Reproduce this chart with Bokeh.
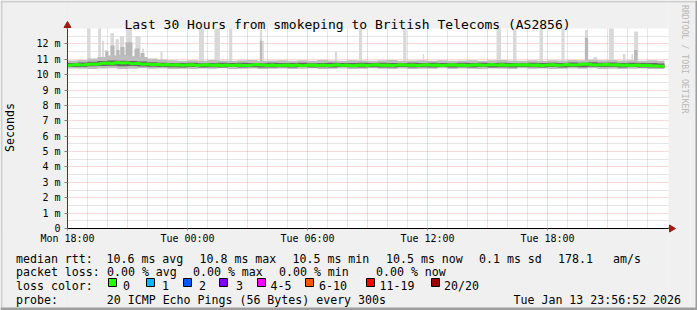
import math
from bokeh.plotting import figure
from bokeh.models import Range1d, FixedTicker, Label, BoxAnnotation, PolyAnnotation
from bokeh.embed import file_html
from bokeh.resources import INLINE

# ---------------- data ----------------
title_text = "Last 30 Hours from smokeping to British Telecoms (AS2856)"
x_tick_hours = [0, 6, 12, 18, 24]
x_tick_labels = ["Mon 18:00", "Tue 00:00", "Tue 06:00", "Tue 12:00", "Tue 18:00"]
y_tick_values = [0, 1, 2, 3, 4, 5, 6, 7, 8, 9, 10, 11, 12]
y_tick_labels = ["0", "1 m", "2 m", "3 m", "4 m", "5 m", "6 m", "7 m", "8 m", "9 m", "10 m", "11 m", "12 m"]

# hours after Mon 18:00, 15 min samples
median_hours = [i * 0.25 for i in range(120)] + [29.85]
median_ms = [
    10.60, 10.63, 10.66, 10.62, 10.66, 10.70, 10.68, 10.74,
    10.76, 10.72, 10.79, 10.75, 10.78, 10.70, 10.74, 10.68,
    10.70, 10.65, 10.68, 10.63, 10.66, 10.62, 10.64, 10.61,
    10.63, 10.65, 10.60, 10.62, 10.64, 10.61, 10.63, 10.60,
    10.62, 10.59, 10.63, 10.61, 10.60, 10.63, 10.66, 10.62,
    10.60, 10.62, 10.59, 10.61, 10.63, 10.60, 10.62, 10.58,
    10.61, 10.63, 10.60, 10.62, 10.59, 10.61, 10.64, 10.60,
    10.62, 10.58, 10.61, 10.63, 10.60, 10.62, 10.64, 10.61,
    10.63, 10.60, 10.62, 10.65, 10.61, 10.63, 10.60, 10.62,
    10.64, 10.61, 10.63, 10.60, 10.62, 10.65, 10.61, 10.63,
    10.60, 10.62, 10.64, 10.61, 10.63, 10.66, 10.62, 10.64,
    10.61, 10.63, 10.65, 10.62, 10.64, 10.61, 10.63, 10.60,
    10.62, 10.65, 10.61, 10.63, 10.66, 10.62, 10.64, 10.67,
    10.69, 10.65, 10.62, 10.64, 10.66, 10.63, 10.65, 10.61,
    10.63, 10.60, 10.62, 10.59, 10.61, 10.58, 10.56, 10.55,
    10.55,
]

# smoke (ping distribution), 30 min samples
band_hours = [i * 0.5 for i in range(60)] + [29.85]
smoke_min = [
    10.40, 10.38, 10.36, 10.40, 10.42, 10.37, 10.39, 10.41, 10.38, 10.40,
    10.37, 10.39, 10.36, 10.40, 10.38, 10.41, 10.37, 10.39, 10.40, 10.36,
    10.38, 10.40, 10.37, 10.39, 10.41, 10.36, 10.38, 10.40, 10.37, 10.39,
    10.41, 10.38, 10.36, 10.40, 10.37, 10.39, 10.38, 10.41, 10.36, 10.40,
    10.38, 10.37, 10.40, 10.39, 10.36, 10.41, 10.38, 10.40, 10.37, 10.39,
    10.40, 10.38, 10.41, 10.37, 10.39, 10.36, 10.38, 10.40, 10.37, 10.36, 10.35,
]
smoke_q1 = [
    10.49, 10.50, 10.54, 10.56, 10.58, 10.55, 10.57, 10.53, 10.51, 10.49,
    10.48, 10.47, 10.49, 10.46, 10.48, 10.47, 10.49, 10.46, 10.48, 10.47,
    10.46, 10.48, 10.47, 10.49, 10.46, 10.48, 10.47, 10.49, 10.48, 10.46,
    10.48, 10.47, 10.46, 10.49, 10.47, 10.48, 10.46, 10.49, 10.47, 10.48,
    10.47, 10.49, 10.46, 10.48, 10.47, 10.49, 10.48, 10.46, 10.49, 10.47,
    10.50, 10.48, 10.51, 10.49, 10.50, 10.47, 10.49, 10.46, 10.47, 10.45, 10.44,
]
smoke_q3 = [
    10.76, 10.79, 10.84, 10.88, 10.92, 10.90, 10.88, 10.85, 10.80, 10.78,
    10.76, 10.75, 10.77, 10.74, 10.76, 10.78, 10.75, 10.77, 10.76, 10.74,
    10.77, 10.75, 10.76, 10.78, 10.74, 10.76, 10.77, 10.75, 10.76, 10.78,
    10.75, 10.77, 10.76, 10.74, 10.77, 10.75, 10.78, 10.76, 10.74, 10.77,
    10.76, 10.78, 10.75, 10.77, 10.76, 10.74, 10.77, 10.75, 10.78, 10.76,
    10.79, 10.77, 10.80, 10.78, 10.79, 10.76, 10.78, 10.75, 10.76, 10.73, 10.72,
]
smoke_max = [
    10.92, 10.95, 11.05, 11.15, 11.25, 11.30, 11.20, 11.15, 11.05, 10.98,
    10.93, 10.90, 10.94, 10.91, 10.95, 10.92, 10.90, 10.93, 10.96, 10.91,
    10.92, 10.94, 10.90, 10.93, 10.91, 10.95, 10.92, 10.90, 10.94, 10.92,
    10.91, 10.93, 10.95, 10.90, 10.92, 10.94, 10.91, 10.93, 10.90, 10.92,
    10.94, 10.91, 10.93, 10.95, 10.92, 10.90, 10.93, 10.91, 10.94, 10.92,
    10.95, 10.93, 10.97, 10.94, 10.96, 10.92, 10.94, 10.91, 10.93, 10.90, 10.88,
]

# slowest ping spikes (hours, ms)
spike_start = [0.98, 1.53, 1.73, 1.87, 2.15, 2.40, 2.62, 2.93, 3.40, 3.73, 4.65,
               6.57, 7.35, 8.08, 9.62, 9.73, 13.37, 14.57, 16.78, 17.77, 21.45,
               22.28, 23.60, 24.70, 25.87, 26.30, 27.07, 27.77, 28.20, 28.33]
spike_end = [1.15, 1.68, 1.82, 1.98, 2.32, 2.57, 2.82, 3.22, 3.65, 3.82, 4.75,
             6.82, 7.62, 8.24, 9.73, 9.82, 13.48, 14.73, 16.95, 17.83, 21.68,
             22.45, 23.77, 24.85, 26.03, 26.48, 27.32, 27.90, 28.28, 28.53]
spike_top = [13.0, 13.0, 12.2, 11.6, 12.7, 12.3, 12.5, 13.0, 12.5, 11.7, 11.5,
             13.0, 13.0, 13.0, 12.9, 12.2, 11.5, 13.0, 13.0, 11.35, 13.0,
             13.0, 13.0, 13.0, 12.9, 11.15, 13.0, 11.35, 11.35, 12.8]
# second slowest pings (darker smoke)
spike2_start = [1.90, 2.15, 2.45, 2.65, 2.90, 3.35, 3.65, 9.62, 25.87, 28.33]
spike2_end = [2.05, 2.35, 2.60, 2.85, 3.25, 3.60, 3.85, 9.73, 26.03, 28.50]
spike2_top = [11.5, 11.9, 11.6, 11.8, 12.1, 11.7, 11.4, 12.2, 12.4, 11.6]

loss_labels = ["0", "1", "2", "3", "4-5", "6-10", "11-19", "20/20"]
loss_colors = ["#26ff00", "#00b8ff", "#0059ff", "#7e00ff", "#ff00ff", "#ff5500", "#ff0000", "#a10000"]

rtt_texts = ["10.6 ms avg", "10.8 ms max", "10.5 ms min", "10.5 ms now", "0.1 ms sd", "178.1", "am/s"]
loss_texts = ["0.00 % avg", "0.00 % max", "0.00 % min", "0.00 % now"]
probe_text = "20 ICMP Echo Pings (56 Bytes) every 300s"
stamp_text = "Tue Jan 13 23:56:52 2026"

# ---------------- layout ----------------
W, H = 697, 310
FL, FR, FT, FB = 67, 668, 28, 228        # plot area in canvas pixels
X0, X1 = 0.0, 30.05                      # plot area in hours
Y0, Y1 = 0.0, 13.0                       # plot area in ms
MONO = "DejaVu Sans Mono"
BG = "#f0f0f0"

kx = (FR - FL) / (X1 - X0)
ky = (FB - FT) / (Y1 - Y0)
xr = Range1d(X0 - FL / kx, X1 + (W - FR) / kx)
yr = Range1d(Y0 - (H - FB) / ky, Y1 + FT / ky)

p = figure(width=W, height=H, output_backend="svg", toolbar_location=None,
           x_range=xr, y_range=yr, min_border=0,
           background_fill_color="#ffffff", border_fill_color=BG,
           outline_line_color=None)

# grids
p.xgrid.ticker = FixedTicker(ticks=[i * 3 for i in range(10)],
                             minor_ticks=[i for i in range(30) if i % 3])
p.ygrid.ticker = FixedTicker(ticks=list(range(13)),
                             minor_ticks=[i + 0.5 for i in range(13)])
for g in (p.xgrid, p.ygrid):
    g.grid_line_color = "#e00000"
    g.grid_line_alpha = 0.3
    g.grid_line_dash = "1 1"
    g.minor_grid_line_color = "#8f8f8f"
    g.minor_grid_line_alpha = 0.45
    g.minor_grid_line_dash = "1 1"

# axes, fixed at the plot-area edges
p.xaxis.fixed_location = Y0
p.yaxis.fixed_location = X0
p.xaxis.bounds = (X0, X1)
p.yaxis.bounds = (Y0, Y1)
p.xaxis.ticker = FixedTicker(ticks=x_tick_hours)
p.xaxis.major_label_overrides = dict(zip(x_tick_hours, x_tick_labels))
p.yaxis.ticker = FixedTicker(ticks=y_tick_values)
p.yaxis.major_label_overrides = dict(zip(y_tick_values, y_tick_labels))
for ax in (p.xaxis, p.yaxis):
    ax.major_label_text_font = MONO
    ax.major_label_text_font_size = "10px"
    ax.major_label_text_color = "#000000"
    ax.minor_tick_line_color = None
    ax.major_tick_in = 0
p.xaxis.major_tick_out = 2
p.xaxis.major_tick_line_color = "#d08080"
p.xaxis.major_label_standoff = 2
p.xaxis.axis_line_color = "#000000"
p.yaxis.major_tick_out = 3
p.yaxis.major_tick_line_color = "#808080"
p.yaxis.major_label_standoff = 4
p.yaxis.axis_line_color = "#6a2626"

# background outside the plot area (hides grid overflow)
p.quad(left=[xr.start, X1, X0, X0], right=[X0, xr.end, X1, X1],
       bottom=[yr.start, yr.start, Y1, yr.start], top=[yr.end, yr.end, yr.end, Y0],
       fill_color=BG, line_color=None)

# data glyphs
p.quad(left=spike_start, right=spike_end, bottom=10.8, top=spike_top,
       fill_color="#d9d9d9", line_color=None)
p.quad(left=spike2_start, right=spike2_end, bottom=10.8, top=spike2_top,
       fill_color="#b8b8b8", line_color=None)
p.varea_step(x=band_hours, y1=smoke_min, y2=smoke_max, step_mode="after",
             fill_color="#bdbdbd")
p.varea_step(x=band_hours, y1=smoke_q1, y2=smoke_q3, step_mode="after",
             fill_color="#666666")
p.line(median_hours, median_ms, line_color="#26ff00", line_width=3)


def text(t, cx, cy, size="11.6px", align="left", baseline="alphabetic", angle=0.0, color="#000000"):
    p.add_layout(Label(x=cx, y=H - cy, x_units="screen", y_units="screen", text=t,
                       text_font=MONO, text_font_size=size, text_align=align,
                       text_baseline=baseline, angle=angle, text_color=color))


def box(l, t, r, b, color, line=None):
    p.add_layout(BoxAnnotation(left=l, right=r, top=H - t, bottom=H - b,
                               left_units="screen", right_units="screen",
                               top_units="screen", bottom_units="screen",
                               fill_color=color, fill_alpha=1.0,
                               line_color=line, line_alpha=1.0, line_width=1))


def poly(pts, color):
    p.add_layout(PolyAnnotation(xs=[a for a, _ in pts], ys=[H - b for _, b in pts],
                                xs_units="screen", ys_units="screen",
                                fill_color=color, fill_alpha=1.0,
                                line_color=color, line_alpha=1.0))


# axis extensions and arrows
box(66, 23, 67, 28, "#6a2626")
box(668, 227, 670, 228, "#000000")
poly([(63.5, 27), (70.5, 27), (67, 21)], "#a01818")
poly([(669, 224.5), (669, 231.5), (675, 228)], "#a01818")

# 3D frame
box(0, 0, 697, 2, "#cfcfcf")
box(0, 0, 2, 310, "#cfcfcf")
box(0, 307, 697, 310, "#9e9e9e")
box(695, 0, 697, 310, "#9e9e9e")

# title and side texts
text(title_text, 347, 24, size="13px", align="center")
text("Seconds", 9.5, 127, align="center", angle=math.pi / 2)
text("RRDTOOL / TOBI OETIKER", 684.5, 4.5, size="8.2px", align="left",
     angle=-math.pi / 2, color="#b8b8b8")

# legend
row_y = [258, 271.5, 285.3, 299]
text("median rtt:", 15.5, row_y[0])
for t, x in zip(rtt_texts, [106, 199, 292, 385.5, 478.5, 557.5, 612.5]):
    text(t, x, row_y[0])
text("packet loss:", 15.5, row_y[1])
for t, x in zip(loss_texts, [106.5, 192.5, 278.5, 375.5]):
    text(t, x, row_y[1])
text("loss color:", 15.5, row_y[2])
for lab, col, bx, tx in zip(loss_labels, loss_colors,
                            [108, 146, 183, 219, 257, 305, 366, 431],
                            [122.5, 161.5, 198.5, 235.5, 270, 318.5, 379, 443.5]):
    box(bx, 278, bx + 8, 286, col, "#000000")
    text(lab, tx, row_y[2])
text("probe:", 15.5, row_y[3])
text(probe_text, 106.3, row_y[3])
text(stamp_text, 513, row_y[3])

open("out.html", "w").write(file_html(p, INLINE))
